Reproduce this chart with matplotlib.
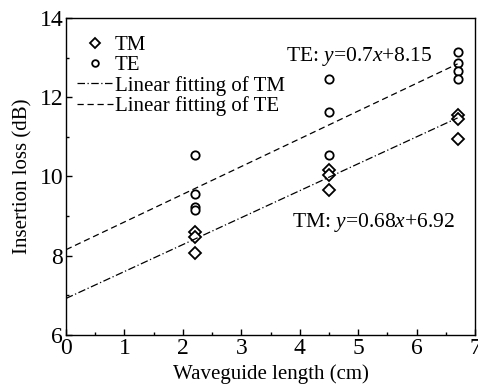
import matplotlib.pyplot as plt
import numpy as np

plt.rcParams['font.family'] = 'Liberation Serif'
plt.rcParams['mathtext.fontset'] = 'custom'
plt.rcParams['mathtext.rm'] = 'Liberation Serif'
plt.rcParams['mathtext.it'] = 'Liberation Serif:italic'

# measured points
tm_x = [2.2, 2.2, 2.2, 4.5, 4.5, 4.5, 6.7, 6.7, 6.7]
tm_y = [8.59, 8.47, 8.06, 10.15, 10.04, 9.65, 11.56, 11.46, 10.94]
te_x = [2.2, 2.2, 2.2, 2.2, 4.5, 4.5, 4.5, 6.7, 6.7, 6.7, 6.7]
te_y = [10.55, 9.55, 9.24, 9.14, 12.46, 11.63, 10.55, 13.14, 12.86, 12.67, 12.46]

# linear fits
tm_fit = (0.68, 6.92)
te_fit = (0.7, 8.15)
fit_x = np.array([0, 6.7])

fig = plt.figure(figsize=(4.78, 3.89), dpi=100)
ax = fig.add_axes([0.138, 0.139, 0.856, 0.815])

ax.plot(tm_x, tm_y, linestyle='none', marker='D', markersize=6.5, markerfacecolor='white',
        markeredgecolor='black', markeredgewidth=1.3, label='TM')
ax.plot(te_x, te_y, linestyle='none', marker='o', markersize=6, markerfacecolor='white',
        markeredgecolor='black', markeredgewidth=1.3, label='TE')
ax.plot(fit_x, tm_fit[0] * fit_x + tm_fit[1], color='black', linewidth=0.9,
        linestyle=(0, (6, 2, 1, 2)), label='Linear fitting of TM')
ax.plot(fit_x, te_fit[0] * fit_x + te_fit[1], color='black', linewidth=0.9,
        linestyle=(0, (5, 3)), label='Linear fitting of TE')

ax.text(3.76, 13.02, r'TE: $\mathit{y}$=0.7$\mathit{x}$+8.15', fontsize=15.5, va='center')
ax.text(3.86, 8.83, r'TM: $\mathit{y}$=0.68$\mathit{x}$+6.92', fontsize=15.5, va='center')

ax.set_xlim(0, 7)
ax.set_ylim(6, 14)
ax.set_xticks(np.arange(0, 8, 1))
ax.set_xticks(np.arange(0.5, 7, 1), minor=True)
ax.set_yticks(np.arange(6, 15, 2))
ax.set_yticks(np.arange(7, 14, 2), minor=True)
ax.tick_params(direction='in', labelsize=17, length=4, width=1, pad=2)
ax.tick_params(which='minor', direction='in', length=2.5, width=1)
for s in ax.spines.values():
    s.set_linewidth(1)

ax.set_xlabel('Waveguide length (cm)', fontsize=15, labelpad=4)
ax.set_ylabel('Insertion loss (dB)', fontsize=15, labelpad=5)

ax.legend(loc='upper left', bbox_to_anchor=(0.007, 0.97), frameon=False, fontsize=15,
          handlelength=1.7, handletextpad=0.1, labelspacing=0.02, borderaxespad=0,
          borderpad=0.4, markerscale=0.8)

plt.savefig('out.png', dpi=100)
